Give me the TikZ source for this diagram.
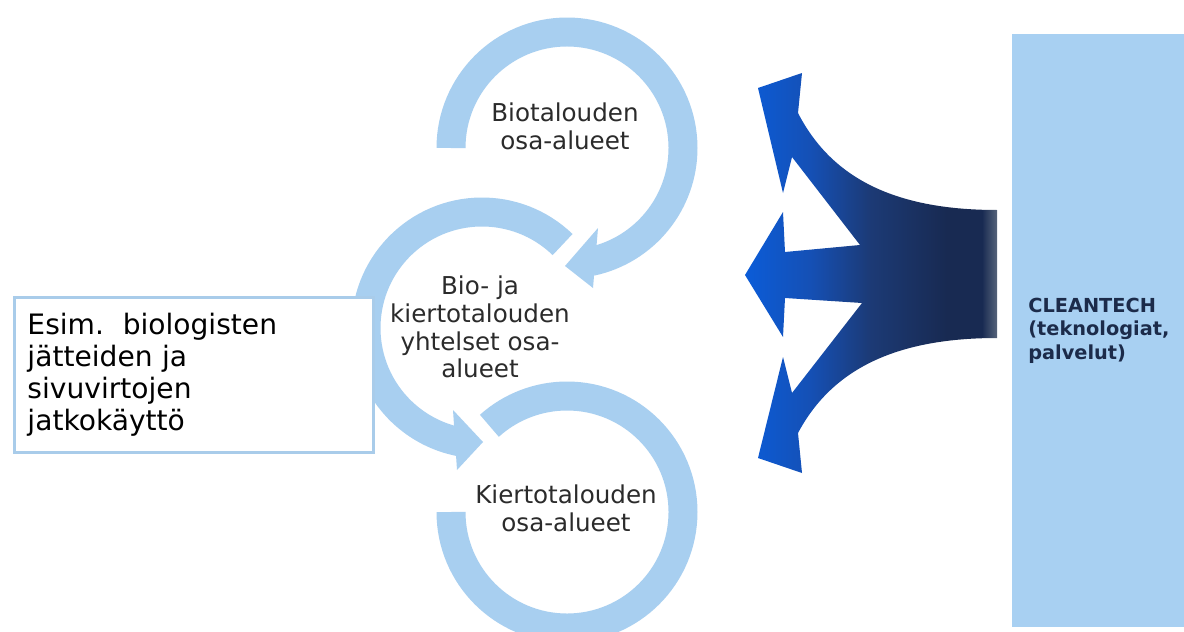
\documentclass[tikz,border=0pt]{standalone}
\usepackage{fontspec}
\setmainfont{DejaVu Sans}

\definecolor{ringblue}{HTML}{A8CFF0}
\definecolor{boxblue}{HTML}{A9CCEA}
\definecolor{techblue}{HTML}{A8D0F2}
\definecolor{ringgray}{HTML}{2B2B2B}
\definecolor{technavy}{HTML}{1C2B4A}
\definecolor{tridentblue}{HTML}{0B5CD8}
\definecolor{tridentmid}{HTML}{1550B5}
\definecolor{tridentnavy}{HTML}{1C3A75}
\definecolor{tridentdark}{HTML}{182A52}
\definecolor{tridentgray}{HTML}{56647A}

\pgfdeclarehorizontalshading{trident}{100bp}{color(0bp)=(tridentblue); color(25bp)=(tridentblue); color(38bp)=(tridentmid); color(50bp)=(tridentnavy); color(65bp)=(tridentdark); color(72bp)=(tridentdark); color(75bp)=(tridentgray); color(100bp)=(tridentgray)}

\tikzset{
  ringband/.style={draw=ringblue, line width=16.5pt},
  ringhead/.style={fill=ringblue},
  ringtext/.style={text=ringgray, align=center, font=\fontsize{14}{15.8}\selectfont},
  esimbox/.style={draw=boxblue, line width=1.7pt, fill=white, align=left, font=\fontsize{16}{18.2}\selectfont},
  ctbox/.style={fill=techblue, align=left, text=technavy, font=\bfseries\fontsize{11}{13.2}\selectfont}
}

\begin{document}
\begin{tikzpicture}[x=0.02cm, y=-0.02cm]
\useasboundingbox (0,0) rectangle (1184,632);
\fill[white] (0,0) rectangle (1184,632); %background

\draw[ringband] (567,148) ++(180:116) arc (180:438:116); %top ring
\fill[ringhead] (598,228) -- (565,266) -- (593,288) -- cycle; %top ring head
\draw[ringband] (482,328) ++(-46:116) arc (-46:-259:116); %middle ring
\fill[ringhead] (453,410) -- (483,442) -- (457,470) -- cycle; %middle ring head
\draw[ringband] (567,512) ++(-180:116) arc (-180:-492:116); %bottom ring, no head

\node[esimbox, anchor=north west, minimum width=7.18cm, minimum height=3.1cm, text width=6.66cm, inner xsep=0.26cm] (esim) at (13,296) {Esim.\ \ biologisten\\jätteiden ja\\sivuvirtojen\\jatkokäyttö};

\node[ringtext] (bioala) at (565,126) {Biotalouden\\osa-alueet};
\node[ringtext] (yhteinen) at (480,327) {Bio- ja\\kiertotalouden\\yhtelset osa-\\alueet};
\node[ringtext] (kiertoala) at (566,508) {Kiertotalouden\\osa-alueet};

\shade[shading=trident] (997,210) .. controls (890,210) and (830,175) .. (798,113) -- (802,73) -- (758,88) -- (783,193) -- (792,157) -- (860,245) -- (785,252) -- (783,212) -- (745,275) -- (783,337) -- (785,298) -- (862,303) -- (792,393) -- (783,357) -- (758,458) -- (802,473) -- (798,433) .. controls (830,373) and (890,338) .. (997,338) -- cycle; %three way arrow

\node[ctbox, anchor=north west, minimum width=3.44cm, minimum height=11.86cm, text width=2.8cm, inner xsep=0.32cm] (cleantech) at (1012,34) {CLEANTECH\\(teknologiat,\\palvelut)};

\end{tikzpicture}
\end{document}
